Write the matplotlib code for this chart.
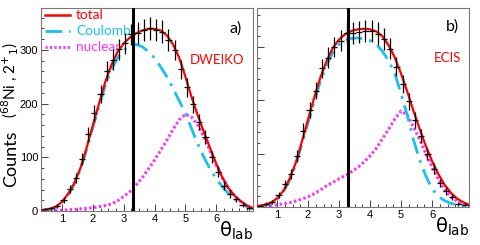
import numpy as np
import matplotlib
matplotlib.use("Agg")
import matplotlib.pyplot as plt
from matplotlib.ticker import MultipleLocator

# data points (bin centres, counts, errors)
xa = [0.45, 0.65, 0.85, 1.05, 1.25, 1.45, 1.65, 1.85, 2.05, 2.25, 2.45, 2.65, 2.85, 3.05,
      3.25, 3.45, 3.65, 3.85, 4.05, 4.25, 4.45, 4.65, 4.85, 5.05, 5.25, 5.45, 5.65, 5.85,
      6.05, 6.25, 6.45, 6.65, 6.85, 7.05]
ya = [3, 5, 9, 20, 41, 61, 97, 143, 182, 218, 261, 282, 301, 312,
      329, 331, 337, 340, 337, 334, 318, 300, 264, 230, 199, 165, 137, 101,
      73, 47, 32, 22, 12, 5]
ea = [2, 3, 4, 6, 8, 9, 11, 14, 15, 16, 18, 19, 19, 19,
      20, 20, 21, 21, 21, 21, 20, 19, 18, 17, 16, 15, 13, 11,
      10, 8, 7, 5, 4, 3]

xb = [0.45, 0.65, 0.85, 1.05, 1.25, 1.45, 1.65, 1.85, 2.05, 2.25, 2.45, 2.65, 2.85, 3.05,
      3.25, 3.45, 3.65, 3.85, 4.05, 4.25, 4.45, 4.65, 4.85, 5.05, 5.25, 5.45, 5.65, 5.85,
      6.05, 6.25, 6.45, 6.65, 6.85, 7.05]
yb = [1, 6, 10, 22, 43, 62, 96, 143, 181, 218, 260, 280, 300, 312,
      326, 326, 328, 330, 330, 325, 315, 297, 263, 230, 198, 164, 133, 99,
      72, 45, 30, 19, 6, 4]
eb = ea

# model curves
xc = [0.3, 0.4, 0.6, 0.8, 1.0, 1.2, 1.4, 1.6, 1.8, 2.0, 2.2, 2.4, 2.6, 2.8, 3.0, 3.2, 3.4,
      3.6, 3.8, 4.0, 4.2, 4.4, 4.6, 4.8, 5.0, 5.2, 5.4, 5.6, 5.8, 6.0, 6.2, 6.4, 6.6,
      6.8, 7.0, 7.2]
tot_a = [1, 2, 4, 8, 17, 32, 52, 80, 118, 160, 200, 240, 272, 296, 312, 323, 331,
         336, 339, 339, 336, 327, 310, 285, 250, 212, 178, 147, 117, 88, 62, 42, 28,
         18, 10, 5]
cou_a = [0, 1, 3, 7, 15, 30, 50, 78, 115, 155, 195, 233, 263, 285, 300, 308, 310,
         306, 297, 285, 268, 250, 228, 205, 182, 153, 125, 100, 78, 60, 45, 32, 22,
         14, 8, 4]
nuc_a = [0, 0, 0.5, 1, 1.5, 2, 3, 4, 5, 6, 8, 10, 13, 19, 27, 36, 48,
         62, 78, 95, 113, 132, 152, 170, 180, 175, 160, 138, 112, 85, 62, 42, 28,
         17, 9, 5]

tot_b = [1, 2, 4, 8, 16, 30, 52, 82, 122, 164, 205, 243, 274, 298, 314, 324, 330,
         333, 334, 333, 329, 320, 303, 280, 250, 216, 180, 146, 114, 86, 62, 42, 27,
         16, 9, 4]
cou_b = [0, 1, 3, 7, 14, 28, 49, 78, 117, 158, 198, 236, 266, 290, 305, 313, 316,
         317, 315, 312, 305, 292, 274, 250, 212, 172, 126, 88, 58, 34, 20, 12, 7,
         4, 2, 1]
nuc_b = [0.5, 1, 2, 3, 4, 6, 8, 11, 15, 19, 25, 32, 40, 46, 53, 59, 66,
         74, 84, 96, 110, 128, 146, 165, 180, 172, 150, 126, 100, 75, 52, 32, 20,
         11, 6, 3]

vline = 3.3
red = '#ff0000'
cyan = '#19c0f0'
mag = '#ff30ff'

plt.rcParams['font.family'] = ['Liberation Sans Narrow', 'Liberation Sans', 'DejaVu Sans']

fig = plt.figure(figsize=(4.8, 2.45), dpi=100)
axa = fig.add_axes([41/480, 1-211/245, 212/480, 203/245])
axb = fig.add_axes([257/480, 1-207/245, 212/480, 199/245])


def draw(ax, x, y, e, tot, cou, nuc, ymax, xmin):
    ax.plot(xc, nuc, color=mag, lw=2.2, ls=(0, (0.8, 0.8)), zorder=2)
    ax.plot(xc, cou, color=cyan, lw=2.0, ls=(0, (6, 2.5, 1, 2.5)), zorder=2)
    ax.plot(xc, tot, color=red, lw=1.6, zorder=3)
    ax.errorbar(x, y, yerr=e, xerr=0.1, fmt='none', ecolor='black', elinewidth=0.9, zorder=4)
    ax.axvline(vline, color='black', lw=2.2, zorder=5)
    ax.set_xlim(xmin, 7.19)
    ax.set_ylim(0, ymax)
    ax.xaxis.set_major_locator(MultipleLocator(1))
    ax.xaxis.set_minor_locator(MultipleLocator(0.25))
    ax.yaxis.set_major_locator(MultipleLocator(100))
    ax.yaxis.set_minor_locator(MultipleLocator(20))
    ax.tick_params(which='both', direction='in', color='#444444', width=0.7,
                   labelsize=8, pad=2)
    ax.tick_params(which='major', length=5)
    ax.tick_params(which='minor', length=2.5)
    for s in ax.spines.values():
        s.set_color('#777777')
        s.set_linewidth(0.8)
    ax.set_xticks([1, 2, 3, 4, 5, 6])
    ax.text(1.0, -0.045, u'\u03b8$_{\\rm lab}$', transform=ax.transAxes, ha='right', va='top',
            fontsize=14, family='DejaVu Sans')


draw(axa, xa, ya, ea, tot_a, cou_a, nuc_a, 378, 0.32)
draw(axb, xb, yb, eb, tot_b, cou_b, nuc_b, 373, 0.355)
axb.set_yticklabels([])
axa.set_yticks([0, 100, 200, 300])

# legend in left panel
ltf = axa.transAxes
axa.plot([0.02, 0.137], [0.966, 0.966], transform=ltf, color=red, lw=1.8)
axa.plot([0.02, 0.137], [0.887, 0.887], transform=ltf, color=cyan, lw=2.0,
         ls=(0, (6, 2.5, 1, 2.5)))
axa.plot([0.02, 0.137], [0.808, 0.808], transform=ltf, color=mag, lw=2.0, ls=(0, (0.8, 0.8)))
for yy, t, c in [(0.966, 'total', red), (0.887, 'Coulomb', cyan), (0.808, 'nuclear', mag)]:
    axa.text(0.165, yy, t, transform=ltf, color=c, fontsize=9.8, va='center', family='Lato')

axa.text(0.92, 0.899, 'a)', transform=ltf, fontsize=11.5, ha='center', va='center', family='Lato')
axa.text(0.83, 0.746, 'DWEIKO', transform=ltf, fontsize=9.5, color=red, ha='center',
         va='center', family='Lato')
axb.text(0.92, 0.907, 'b)', transform=axb.transAxes, fontsize=11.5, ha='center', va='center',
         family='Lato')
axb.text(0.90, 0.75, 'ECIS', transform=axb.transAxes, fontsize=9.5, color=red, ha='center',
         va='center', family='Lato')

# y label: "Counts" larger than the bracket part, sharing one baseline
fig.text(0.034, 0.353, 'Counts', rotation=90, rotation_mode='anchor', ha='center',
         va='baseline', fontsize=13, family='Lato')
fig.text(0.034, 0.672, r'($^{68}$Ni , 2$^{+}$$_{1}$)', rotation=90, rotation_mode='anchor',
         ha='center', va='baseline', fontsize=11, family='Lato')

fig.savefig('out.png', dpi=100)
